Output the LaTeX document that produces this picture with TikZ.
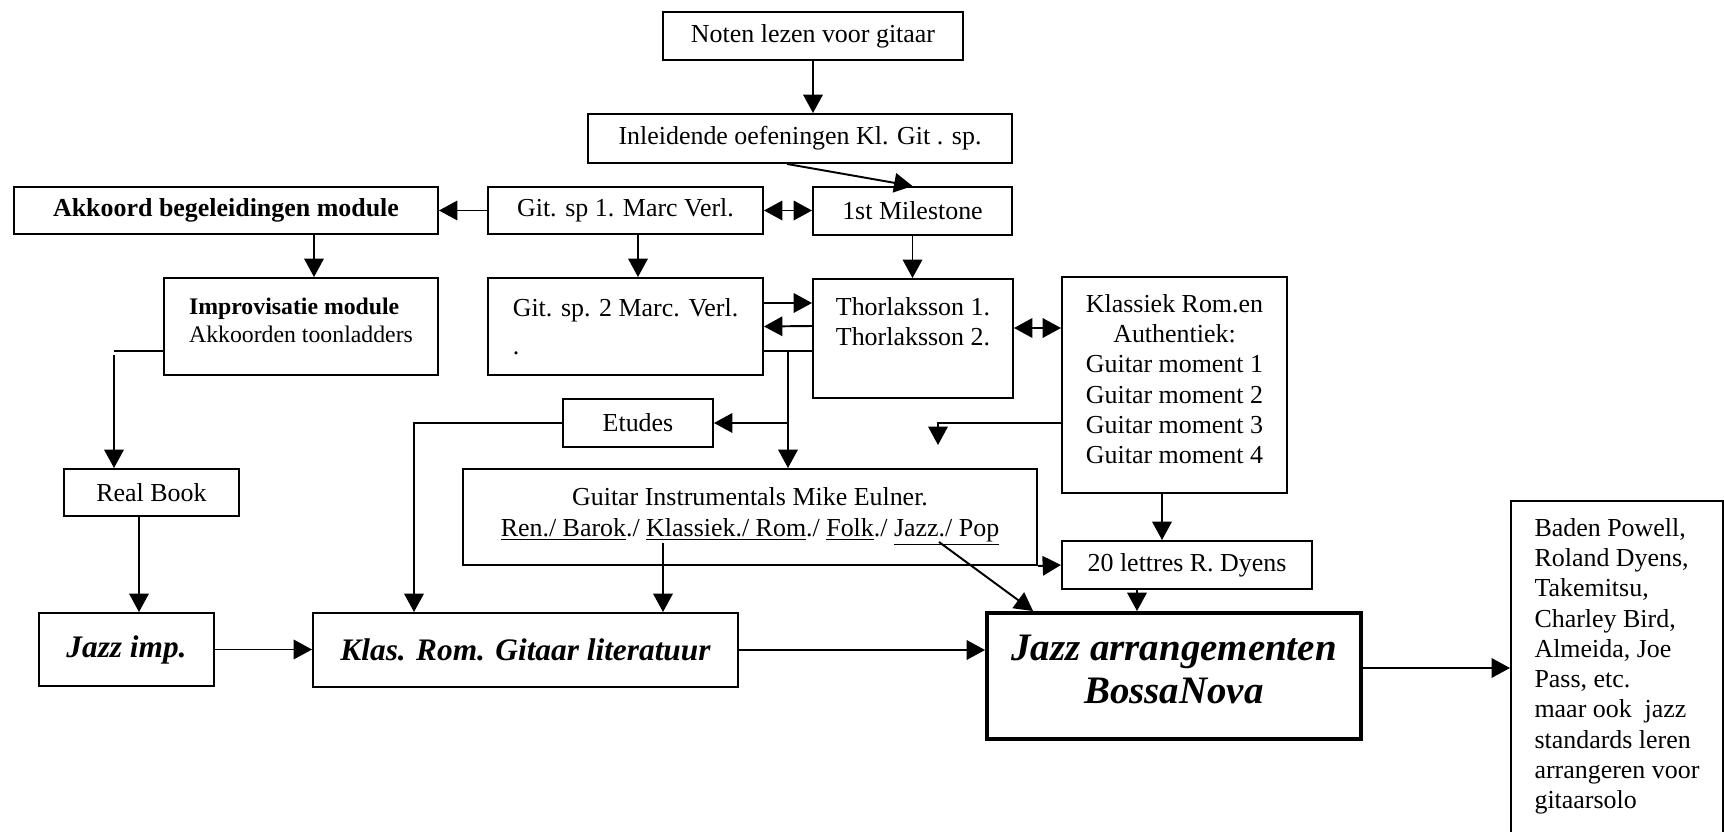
\documentclass[tikz,border=0pt]{standalone}
\usepackage{fontspec}
\setmainfont{Liberation Serif}
\usetikzlibrary{arrows.meta, calc, positioning}
\newcommand\pxu{0.4627pt}
\tikzset{
  % connector style
  garr/.style={
    line width = 0.9pt
  },
}
\tikzset{
  % course box style
  course/.style={
    draw
    , line width=0.9pt
    , align=center
    , inner sep=0pt
    , font=\fontsize{12}{14}\selectfont
    %, rounded corners
  },
  boxsize/.style 2 args={
    minimum width=#1*\pxu
    , minimum height=#2*\pxu
  },
  heavy/.style={
    font=\fontsize{14.5}{17}\selectfont\bfseries\itshape
  },
}

\begin{document}
\begin{tikzpicture}[x=\pxu, y=-\pxu, >={Triangle[length=8.5pt,width=9pt]}]
  \useasboundingbox (0,0) rectangle (1724,832);

  % top row
  \node[course, boxsize={300}{48}] (noten) at (813,36) {Noten lezen voor gitaar};
  \node[course, boxsize={424}{49}] (inleid) at (800,138.5) {Inleidende oefeningen Kl. Git . sp.};
  \node[course, boxsize={424}{47}, font=\fontsize{12}{14}\selectfont\bfseries] (akkoord) at (226,210.5) {Akkoord begeleidingen module};
  \node[course, boxsize={275}{47}] (gitsp1) at (625.5,210.5) {Git. sp 1. Marc Verl.};
  \node[course, boxsize={199}{48}] (milestone) at (912.5,211) {1st Milestone};

  % middle
  \node[course, boxsize={274}{97}, align=left, font=\fontsize{11}{13}\selectfont, text depth=6pt] (improv) at (301,326.5)
    {\textbf{Improvisatie module}\\Akkoorden toonladders};
  \node[course, boxsize={275}{97}, align=left] (gitsp2) at (625.5,326.5) {Git. sp. 2 Marc. Verl.\\[3.5pt] .};
  \node[course, boxsize={200}{119}, align=left, text depth=16pt] (thorl) at (913,338.5) {Thorlaksson 1.\\Thorlaksson 2.};
  \node[course, boxsize={225}{216}, text depth=5.5pt] (klassiek) at (1174.5,385)
    {Klassiek Rom.en\\Authentiek:\\Guitar moment 1\\Guitar moment 2\\Guitar moment 3\\Guitar moment 4};
  \node[course, boxsize={150}{48}] (etudes) at (638,423) {Etudes};
  \node[course, boxsize={175}{47}] (realbook) at (151.5,492.5) {Real Book};
  \node[course, boxsize={574}{96}] (guitinstr) at (750,517)
    {Guitar Instrumentals Mike Eulner.\\
     \underline{Ren./ Barok}./ \underline{Klassiek./ Rom}./ \underline{Folk}./ \underline{Jazz./ Pop}};
  \node[course, boxsize={250}{48}] (lettres) at (1187,565) {20 lettres R. Dyens};

  % bottom row
  \node[course, heavy, boxsize={175}{73}] (jazzimp) at (126.5,649.5) {Jazz imp.};
  \node[course, heavy, boxsize={425}{74}] (klasrom) at (525.5,650) {Klas. Rom. Gitaar literatuur};
  \node[course, boxsize={374}{126}, line width=1.8pt, text depth=6.5pt
        , font=\fontsize{18}{20}\selectfont\bfseries\itshape] (jazzarr) at (1174,676) {Jazz arrangementen\\BossaNova};
  \node[course, boxsize={212}{0}, anchor=north west, align=left, inner ysep=8pt, text depth=30pt] (baden) at (1510,500)
    {Baden Powell,\\Roland Dyens,\\Takemitsu,\\Charley Bird,\\Almeida, Joe\\Pass, etc.\\maar ook~ jazz\\standards leren\\arrangeren voor\\gitaarsolo};

  % connectors
  \draw[->, garr] (noten) -- (noten.south |- inleid.north);
  \draw[->, garr] ($(inleid.south)+(-13,0)$) -- (milestone.north);
  \draw[->, garr] (gitsp1) -- (akkoord);
  \draw[<->, garr] (gitsp1.east) -- (gitsp1.east -| milestone.west);
  \coordinate (imptop) at ($(improv.north)+(13,0)$);
  \draw[->, garr] (imptop |- akkoord.south) -- (imptop);
  \draw[->, garr] ($(gitsp1.south)+(12.5,0)$) -- ($(gitsp2.north)+(12.5,0)$);
  \draw[->, garr] (milestone.south) -- (milestone.south |- thorl.north);
  \draw[->, garr] ($(gitsp2.east)+(0,-23.5)$) -- ($(thorl.west)+(0,-35.5)$);
  \draw[->, garr] ($(thorl.west)+(0,-12.5)$) -- (gitsp2.east);
  \coordinate (split) at (788,351);
  \draw[garr] (gitsp2.east |- split) -- (thorl.west |- split);
  \draw[->, garr] (split) -- (split |- guitinstr.north);
  \draw[->, garr] (split |- etudes.east) -- (etudes.east);
  \draw[->, garr] (etudes.west) -| ($(klasrom.north)+(-111.5,0)$);
  \coordinate (rbbend) at (114,351);
  \draw[garr] (improv.west |- rbbend) -- (rbbend);
  \draw[->, garr] ($(rbbend)+(0,4)$) -- (rbbend |- realbook.north);
  \draw[->, garr] ($(realbook.south)+(-12.5,0)$) -- ($(jazzimp.north)+(12.5,0)$);
  \draw[->, garr] (jazzimp.east) -- (jazzimp.east -| klasrom.west);
  \coordinate (klasref) at (663,543);
  \draw[->, garr] (klasref) -- (klasref |- klasrom.north);
  \coordinate (jazzref) at (939,542);
  \draw[->, garr] (jazzref) -- ($(jazzarr.north west)+(48,0)$);
  \draw[->, garr] (guitinstr.south east) -- (lettres.west);
  \draw[->, garr] ($(klassiek.south)+(-12.5,0)$) -- ($(lettres.north)+(-25,0)$);
  \draw[->, garr] ($(lettres.south)+(-50,0)$) -- ($(jazzarr.north)+(-37,0)$);
  \draw[<->, garr] ($(thorl.east)+(0,-10.5)$) -- ($(klassiek.west)+(0,-57)$);
  \coordinate (loose) at (938,445);
  \draw[->, garr] ($(klassiek.west)+(0,38)$) -| (loose);
  \draw[->, garr] (klasrom.east) -- (klasrom.east -| jazzarr.west);
  \coordinate (badenin) at ($(jazzarr.east)+(0,-8)$);
  \draw[->, garr] (badenin) -- (badenin -| baden.west);
\end{tikzpicture}
\end{document}
